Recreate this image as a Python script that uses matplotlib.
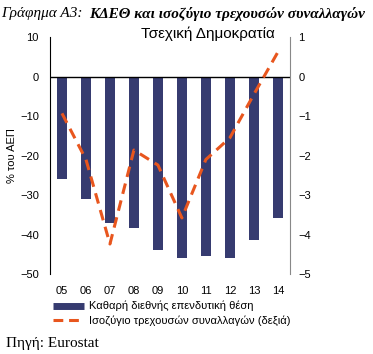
import numpy as np
import matplotlib.pyplot as plt
from matplotlib.lines import Line2D

years = ['05', '06', '07', '08', '09', '10', '11', '12', '13', '14']
niip = [-26, -31, -37, -38.3, -44, -46, -45.4, -46, -41.5, -35.7]
current_account = [-0.93, -2.1, -4.24, -1.86, -2.24, -3.58, -2.1, -1.55, -0.45, 0.62]

bar_color = '#363B70'
line_color = '#E8561E'

plt.rcParams['font.family'] = ['Liberation Sans', 'DejaVu Sans']

fig = plt.figure(figsize=(3.73, 3.54), dpi=100)
ax = fig.add_axes([0.134, 0.226, 0.643, 0.669])
ax2 = ax.twinx()

x = np.arange(len(years))
ax.bar(x, niip, width=0.42, color=bar_color, zorder=2)
ax.axhline(0, color='black', lw=1, zorder=3)
ax.set_xlim(-0.5, len(years) - 0.5)
ax.set_ylim(-50, 10)
ax.set_yticks(range(-50, 11, 10))
ax.set_xticks(x)
ax.set_xticklabels(years)
ax.tick_params(axis='y', length=0, labelsize=8, pad=8)
ax.tick_params(axis='x', length=0, labelsize=8, pad=9)
ax.set_ylabel('% του ΑΕΠ', fontsize=8, labelpad=2)

ax2.plot(x, current_account, color=line_color, lw=2.2, dashes=(3.5, 2.2), zorder=4)
ax2.set_ylim(-5, 1)
ax2.set_yticks(range(-5, 2))
ax2.tick_params(length=0, labelsize=8, pad=6)

for a in (ax, ax2):
    a.spines['top'].set_visible(False)
    a.spines['bottom'].set_visible(False)
ax.spines['right'].set_visible(False)
ax.spines['left'].set_color('black')
ax2.spines['left'].set_visible(False)
ax2.spines['right'].set_color('#888888')

# title in two parts: italic label then bold italic text
t1 = fig.text(0.003, 0.98, 'Γράφημα Α3:', family='Liberation Serif', style='italic',
              fontsize=11, va='top')
fig.canvas.draw()
bb = t1.get_window_extent()
fig.text(bb.x1 / fig.bbox.width + 0.018, 0.98, 'ΚΔΕΘ και ισοζύγιο τρεχουσών συναλλαγών',
         family='Liberation Serif', style='italic', weight='bold', fontsize=11, va='top')
fig.text(0.556, 0.905, 'Τσεχική Δημοκρατία', fontsize=11, ha='center', va='center')

handles = [Line2D([], [], color=bar_color, lw=5, solid_capstyle='butt'),
           Line2D([], [], color=line_color, lw=2.2, dashes=(3.2, 1.9), dash_capstyle='butt')]
labels = ['Καθαρή διεθνής επενδυτική θέση', 'Ισοζύγιο τρεχουσών συναλλαγών (δεξιά)']
fig.legend(handles, labels, loc='upper left', bbox_to_anchor=(0.142, 0.15),
           frameon=False, fontsize=8, handlelength=2.8, handletextpad=0.45,
           labelspacing=0.35, borderpad=0, borderaxespad=0)

fig.text(0.017, 0.01, 'Πηγή: Eurostat', family='Liberation Serif', fontsize=11, va='bottom')

fig.savefig('out.png', dpi=100)
